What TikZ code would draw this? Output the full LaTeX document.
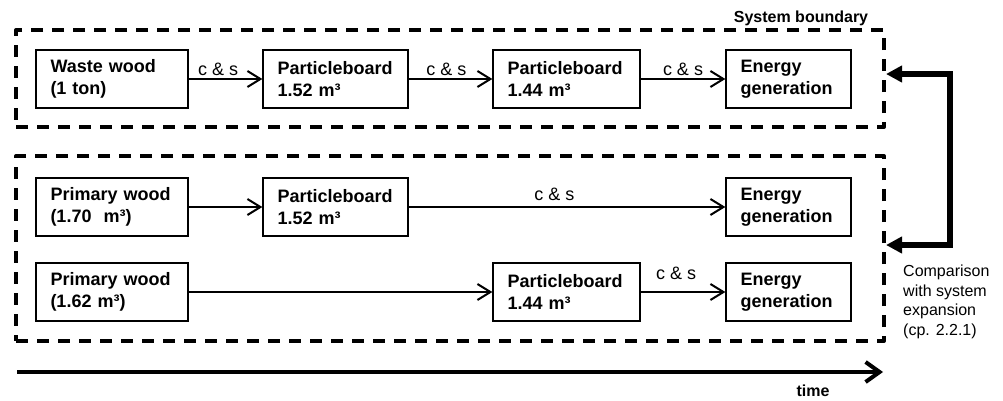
\documentclass[tikz,border=0pt]{standalone}
\usepackage{fontspec}
\setmainfont{Liberation Sans}
\usetikzlibrary{arrows.meta}
\begin{document}
\begin{tikzpicture}[x=1pt,y=-1pt,
  box/.style={draw, line width=1.3pt, inner xsep=14.5pt, inner ysep=0pt, minimum height=58pt, align=left, font=\fontsize{18pt}{22pt}\selectfont\bfseries},
  boundary/.style={draw, dash pattern=on 12pt off 9pt, line width=4pt, inner sep=0pt, line join=round},
  flow/.style={line width=2pt, -{Straight Barb[length=13pt,width=16pt]}},
  lbl/.style={font=\fontsize{18pt}{22pt}\selectfont, anchor=base, inner sep=0pt},
  cmp/.style={line width=6pt, {Triangle[length=16pt,width=16pt]}-{Triangle[length=16pt,width=16pt]}},
  timearrow/.style={line width=4pt, -{Straight Barb[length=14pt,width=20pt]}},
  note/.style={font=\fontsize{16pt}{19.5pt}\selectfont, align=left, inner sep=0pt},
  title/.style={font=\fontsize{16pt}{19pt}\selectfont\bfseries, anchor=base, inner sep=0pt}
]
\useasboundingbox (0,0) rectangle (1003,400);
% system boundaries
\node[boundary, minimum width=868pt, minimum height=97pt] (sb1) at (450,78.5) {};
\node[boundary, minimum width=868pt, minimum height=185pt] (sb2) at (450,248.5) {};
\node[title] (sbl) at (801,22) {System boundary};
% top row
\node[box, text width=123pt] (w) at (112,79) {Waste wood\\(1 ton)};
\node[box, text width=116pt] (p1) at (335.5,79) {Particleboard\\1.52 m³};
\node[box, text width=118pt] (p2) at (566.5,79) {Particleboard\\1.44 m³};
\node[box, text width=96pt] (e1) at (788.5,79) {Energy\\generation};
% middle row
\node[box, text width=123pt] (pw1) at (112,207) {Primary wood\\(1.70\ \ m³)};
\node[box, text width=116pt] (p3) at (335.5,207) {Particleboard\\1.52 m³};
\node[box, text width=96pt] (e2) at (788.5,207) {Energy\\generation};
% bottom row
\node[box, text width=123pt] (pw2) at (112,292) {Primary wood\\(1.62 m³)};
\node[box, text width=118pt] (p4) at (566.5,292) {Particleboard\\1.44 m³};
\node[box, text width=96pt] (e3) at (788.5,292) {Energy\\generation};
% flows
\draw[flow] (w) -- node[lbl, pos=0.4, yshift=4pt] {c \& s} (p1);
\draw[flow] (p1) -- node[lbl, pos=0.45, yshift=4pt] {c \& s} (p2);
\draw[flow] (p2) -- node[lbl, pos=0.5, yshift=4pt] {c \& s} (e1);
\draw[flow] (pw1) -- (p3);
\draw[flow] (p3) -- node[lbl, pos=0.46, yshift=7pt] {c \& s} (e2);
\draw[flow] (pw2) -- (p4);
\draw[flow] (p4) -- node[lbl, pos=0.42, yshift=13pt] {c \& s} (e3);
% comparison
\draw[cmp] (sb1.east |- 0,74) -- (950,74) -- (950,245) -- (sb2.east |- 0,245);
\node[note, anchor=north west] (cmpnote) at (903,265) {Comparison\\with system\\expansion\\(cp. 2.2.1)};
% time
\coordinate (t0) at (17,372);
\coordinate (t1) at (883,372);
\draw[timearrow] (t0) -- (t1);
\node[title] (tl) at (813,396) {time};
\end{tikzpicture}
\end{document}
